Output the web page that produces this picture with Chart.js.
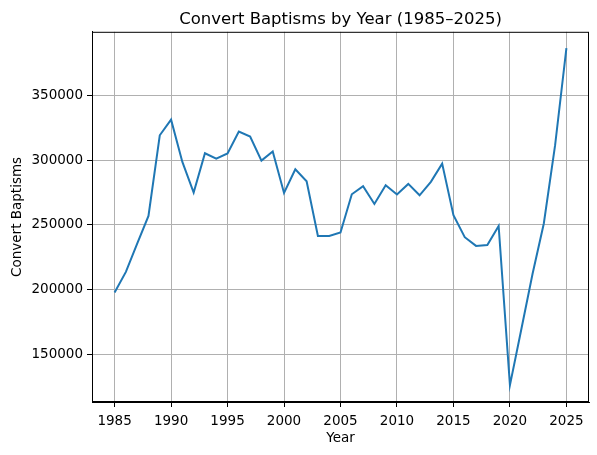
<!DOCTYPE html>
<html>
<head>
<meta charset="utf-8">
<script src="https://cdn.jsdelivr.net/npm/chart.js@4/dist/chart.umd.min.js"></script>
<style>
  html, body { margin: 0; padding: 0; background: #fff; }
  #wrap { width: 597px; height: 455px; }
</style>
</head>
<body>
<div id="wrap"><canvas id="chart"></canvas></div>
<script>
const years = [1985, 1986, 1987, 1988, 1989, 1990, 1991, 1992, 1993, 1994,
    1995, 1996, 1997, 1998, 1999, 2000, 2001, 2002, 2003, 2004,
    2005, 2006, 2007, 2008, 2009, 2010, 2011, 2012, 2013, 2014,
    2015, 2016, 2017, 2018, 2019, 2020, 2021, 2022, 2023, 2024, 2025];
const baptisms = [197800, 213700, 235600, 257000, 319300, 331400, 298700, 275000, 305400, 301300,
    305200, 322200, 318300, 299700, 306700, 274700, 293000, 283800, 241500, 241500,
    244100, 273700, 279900, 266200, 280700, 273500, 281700, 272900, 283300, 297400,
    257500, 240500, 233800, 234500, 249200, 126100, 169000, 212000, 251100, 311600, 386700];
const xTicks = [1985, 1990, 1995, 2000, 2005, 2010, 2015, 2020, 2025];
const yTicks = [150000, 200000, 250000, 300000, 350000];

const font = 'DejaVu Sans';

// matplotlib style: box round the plot area, title centred over the axes
const frameBox = {
    id: 'frameBox',
    afterLayout(chart) {
        if (chart.titleBlock) {
            chart.titleBlock.left = chart.chartArea.left;
            chart.titleBlock.right = chart.chartArea.right;
        }
    },
    afterDraw(chart) {
        const a = chart.chartArea;
        const ctx = chart.ctx;
        ctx.save();
        ctx.strokeStyle = '#000';
        ctx.lineWidth = 1;
        ctx.strokeRect(a.left + 0.5, a.top + 0.5, a.right - a.left - 1, a.bottom - a.top - 1);
        ctx.restore();
    }
};

new Chart(document.getElementById('chart').getContext('2d'), {
    type: 'line',
    data: {
        datasets: [{
            label: 'Convert Baptisms',
            data: years.map((y, i) => ({ x: y, y: baptisms[i] })),
            borderColor: '#1f77b4',
            borderWidth: 2,
            pointRadius: 0,
            fill: false,
            tension: 0
        }]
    },
    options: {
        responsive: true,
        maintainAspectRatio: false,
        animation: false,
        layout: { padding: { left: 0, right: 8, top: 0, bottom: 0 } },
        plugins: {
            legend: { display: false },
            tooltip: { enabled: false },
            title: {
                display: true,
                text: 'Convert Baptisms by Year (1985–2025)',
                color: '#000',
                font: { family: font, size: 16.5, weight: 'normal' },
                padding: { top: 10, bottom: 2 }
            }
        },
        scales: {
            x: {
                type: 'linear',
                min: 1983,
                max: 2027,
                afterBuildTicks: s => { s.ticks = xTicks.map(v => ({ value: v })); },
                afterFit: s => { s.height = 53; },
                ticks: {
                    color: '#000',
                    font: { family: font, size: 13.5 },
                    padding: 6,
                    maxRotation: 0,
                    callback: v => String(v)
                },
                grid: { color: '#b0b0b0', lineWidth: 1, tickLength: 5, tickColor: '#000' },
                border: { color: '#000', width: 1 },
                title: {
                    display: true,
                    text: 'Year',
                    color: '#000',
                    font: { family: font, size: 13.5 },
                    padding: { top: 2, bottom: 8 }
                }
            },
            y: {
                min: 113100,
                max: 399300,
                afterBuildTicks: s => { s.ticks = yTicks.map(v => ({ value: v })); },
                afterFit: s => { s.width = 92; },
                ticks: {
                    color: '#000',
                    font: { family: font, size: 13.5 },
                    padding: 4,
                    callback: v => String(v)
                },
                grid: { color: '#b0b0b0', lineWidth: 1, tickLength: 5, tickColor: '#000' },
                border: { color: '#000', width: 1 },
                title: {
                    display: true,
                    text: 'Convert Baptisms',
                    color: '#000',
                    font: { family: font, size: 13.5 },
                    padding: { top: 9, bottom: 4 }
                }
            }
        }
    },
    plugins: [frameBox]
});
</script>
</body>
</html>
